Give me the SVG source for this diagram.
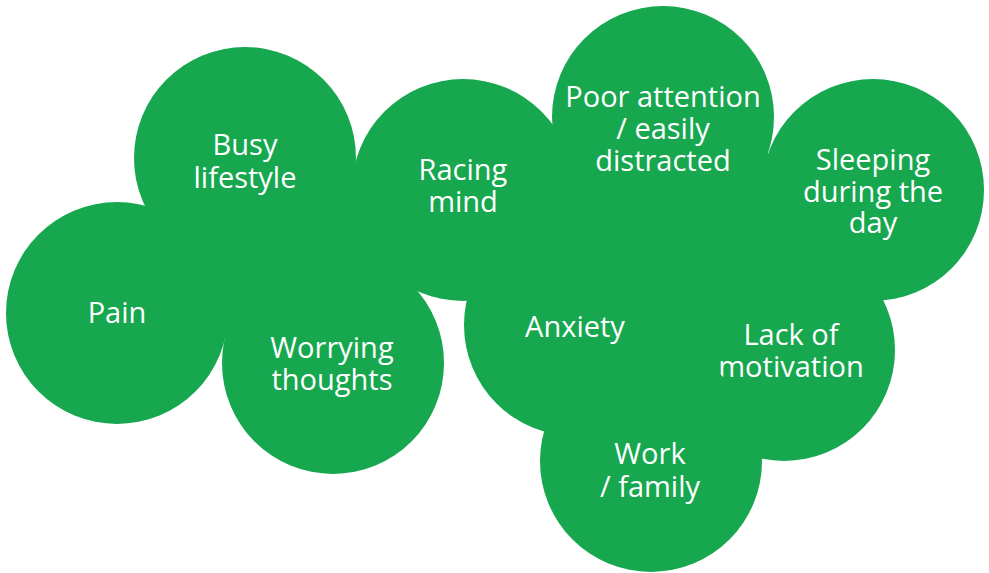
<svg xmlns="http://www.w3.org/2000/svg" width="989" height="573" viewBox="0 0 989 573">
<style>
.b{fill:#16a74f}
.t{fill:#fff;font-family:"Open Sans","Liberation Sans",sans-serif;font-size:29px;text-anchor:middle}
</style>
<rect width="989" height="573" fill="#fff"/>
<g id="connectors">
<polygon class="b" points="117,313 245,158 463,190 663,117 873,190 784,350 651,461 575,325 463,190 333,363"/>
</g>
<g id="busy"><circle class="b" cx="245" cy="158" r="111"/><text class="t" x="245" y="155">Busy</text><text class="t" x="245" y="188">lifestyle</text></g>
<g id="racing"><circle class="b" cx="463" cy="190" r="111"/><text class="t" x="463" y="180">Racing</text><text class="t" x="463" y="212">mind</text></g>
<g id="poor"><circle class="b" cx="663" cy="117" r="111"/><text class="t" x="663" y="107">Poor attention</text><text class="t" x="663" y="139">/ easily</text><text class="t" x="663" y="171">distracted</text></g>
<g id="sleeping"><circle class="b" cx="873" cy="190" r="111"/><text class="t" x="873" y="170">Sleeping</text><text class="t" x="873" y="202">during the</text><text class="t" x="873" y="233">day</text></g>
<g id="pain"><circle class="b" cx="117" cy="313" r="111"/><text class="t" x="117" y="323">Pain</text></g>
<g id="worrying"><circle class="b" cx="333" cy="363" r="111"/><text class="t" x="332" y="358">Worrying</text><text class="t" x="332" y="390">thoughts</text></g>
<g id="anxiety"><circle class="b" cx="575" cy="325" r="111"/><text class="t" x="575" y="337">Anxiety</text></g>
<g id="lack"><circle class="b" cx="784" cy="350" r="111"/><text class="t" x="791" y="345">Lack of</text><text class="t" x="791" y="377">motivation</text></g>
<g id="work"><circle class="b" cx="651" cy="461" r="111"/><text class="t" x="650" y="464">Work</text><text class="t" x="650" y="497">/ family</text></g>
</svg>
